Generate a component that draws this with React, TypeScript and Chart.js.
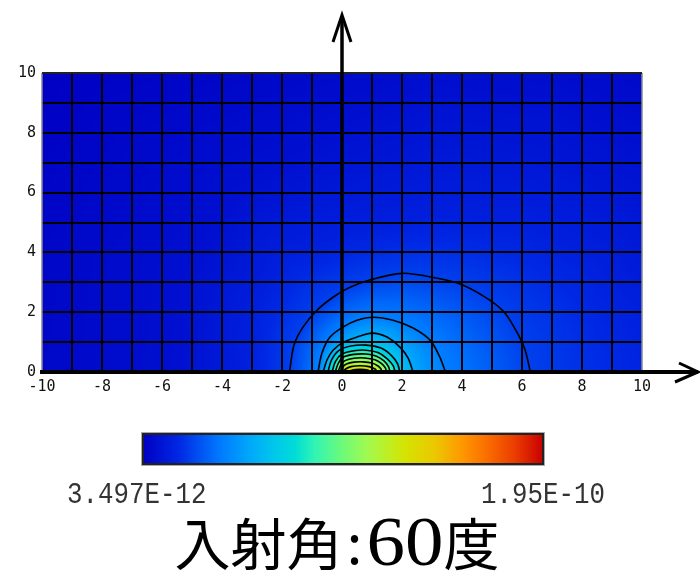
import React, { useEffect, useRef } from 'react';
import { Chart, registerables } from 'chart.js';

Chart.register(...registerables);

// ---------------- data ----------------
const X_RANGE = [-10, 10];
const Y_RANGE = [0, 10];
const GRID_STEP = 1;
const X_LABELS = [-10, -8, -6, -4, -2, 0, 2, 4, 6, 8, 10];
const Y_LABELS = [0, 2, 4, 6, 8, 10];

// normalised field levels (0 = min of colour bar, 1 = max)
const CONTOUR_LEVELS = [0.12, 0.2, 0.27, 0.33, 0.39, 0.45, 0.51, 0.57, 0.63, 0.67];

const CONTOUR_1 = [[-1.75, 0], [-1.6, 0.9], [-1.3, 1.5], [-0.85, 2.05], [-0.3, 2.5], [0.2, 2.8], [0.9, 3.07], [2.0, 3.3], [3.1, 3.15], [4.0, 2.92], [4.9, 2.42], [5.45, 1.95], [5.9, 1.2], [6.1, 0.75], [6.28, 0]];
const CONTOUR_2 = [[-0.8, 0], [-0.67, 0.63], [-0.4, 1.17], [0.03, 1.5], [0.5, 1.73], [1.03, 1.83], [1.7, 1.73], [2.37, 1.47], [2.95, 1.05], [3.25, 0.52], [3.45, 0]];
const CONTOUR_3 = [[-0.63, 0], [-0.5, 0.4], [-0.3, 0.73], [0.05, 1.0], [0.5, 1.17], [1.0, 1.3], [1.5, 1.17], [1.93, 0.83], [2.2, 0.47], [2.37, 0]];
const CONTOUR_4 = [[-0.47, 0], [-0.35, 0.4], [-0.1, 0.72], [0.3, 0.87], [0.8, 0.9], [1.3, 0.8], [1.65, 0.55], [1.85, 0.28], [1.93, 0]];
const CONTOUR_5 = [[-0.33, 0], [-0.22, 0.35], [0.0, 0.6], [0.4, 0.71], [0.8, 0.73], [1.2, 0.65], [1.5, 0.45], [1.7, 0.22], [1.77, 0]];
const CONTOUR_6 = [[-0.23, 0], [-0.12, 0.3], [0.05, 0.5], [0.4, 0.59], [0.8, 0.6], [1.15, 0.53], [1.4, 0.37], [1.55, 0.18], [1.6, 0]];
const CONTOUR_7 = [[-0.13, 0], [-0.04, 0.24], [0.1, 0.38], [0.4, 0.46], [0.75, 0.47], [1.1, 0.41], [1.32, 0.28], [1.45, 0.13], [1.48, 0]];
const CONTOUR_8 = [[-0.04, 0], [0.03, 0.17], [0.15, 0.27], [0.4, 0.33], [0.7, 0.34], [1.0, 0.3], [1.2, 0.2], [1.3, 0.1], [1.33, 0]];
const CONTOUR_9 = [[0.05, 0], [0.12, 0.1], [0.3, 0.18], [0.6, 0.21], [0.9, 0.18], [1.1, 0.1], [1.18, 0]];
const CONTOUR_10 = [[0.2, 0], [0.35, 0.07], [0.6, 0.09], [0.85, 0.07], [1.0, 0]];
const CONTOURS = [CONTOUR_1, CONTOUR_2, CONTOUR_3, CONTOUR_4, CONTOUR_5, CONTOUR_6, CONTOUR_7, CONTOUR_8, CONTOUR_9, CONTOUR_10];

// faint outer iso-lines of the background shading (not drawn as lines)
const SHADE_LEVELS = [0.0, 0.035, 0.07];
const SHADE_0 = [[-14, 0], [-13, 6], [-9, 11], [-2, 13], [5, 14], [12, 13], [17, 9], [20, 0]];
const SHADE_1 = [[-5.5, 0], [-5.2, 3], [-3.5, 6], [0, 8], [3, 9.5], [7, 9], [10.5, 7], [13, 3], [14, 0]];
const SHADE_2 = [[-3.2, 0], [-3, 2.0], [-2, 3.8], [0, 4.6], [3, 5.2], [6, 5.0], [8.5, 3.8], [10.5, 1.5], [11, 0]];
const SHADES = [SHADE_0, SHADE_1, SHADE_2];

const PEAK = [0.6, 0.02];
const PEAK_LEVEL = 0.7;

// colour map (jet-like), positions 0..1
const CMAP_POS = [0, 0.09, 0.19, 0.27, 0.33, 0.38, 0.43, 0.5, 0.56, 0.63, 0.66, 0.73, 0.8, 0.86, 0.93, 1];
const CMAP_R = [0, 0, 0, 0, 0, 0, 50, 110, 160, 200, 215, 235, 255, 250, 235, 200];
const CMAP_G = [0, 40, 120, 170, 200, 220, 245, 250, 250, 235, 225, 200, 150, 110, 60, 0];
const CMAP_B = [195, 228, 255, 250, 235, 215, 180, 120, 80, 20, 0, 0, 0, 0, 0, 0];

const COLORBAR_LABELS = ['3.497E-12', '1.95E-10'];
const TITLE_TEXT = '入射角:60度';

// ---------------- helpers ----------------
type Shape = { level: number; pts: number[][] };
const SHAPES: Shape[] = [
  ...SHADES.map((pts, i) => ({ level: SHADE_LEVELS[i], pts })),
  ...CONTOURS.map((pts, i) => ({ level: CONTOUR_LEVELS[i], pts })),
];

function insideArc(pts: number[][], x: number, y: number) {
  let inside = false;
  const n = pts.length;
  for (let i = 0, j = n - 1; i < n; j = i++) {
    const xi = pts[i][0], yi = pts[i][1], xj = pts[j][0], yj = pts[j][1];
    if ((yi > y) !== (yj > y) && x < ((xj - xi) * (y - yi)) / (yj - yi) + xi) inside = !inside;
  }
  return inside;
}

function distArc(pts: number[][], x: number, y: number) {
  let best = Infinity;
  for (let i = 0; i < pts.length - 1; i++) {
    const ax = pts[i][0], ay = pts[i][1], bx = pts[i + 1][0], by = pts[i + 1][1];
    const dx = bx - ax, dy = by - ay;
    const l2 = dx * dx + dy * dy;
    let t = l2 > 0 ? ((x - ax) * dx + (y - ay) * dy) / l2 : 0;
    t = Math.max(0, Math.min(1, t));
    const px = ax + t * dx - x, py = ay + t * dy - y;
    const d = px * px + py * py;
    if (d < best) best = d;
  }
  return Math.sqrt(best);
}

function fieldAt(x: number, y: number) {
  let k = -1;
  for (let s = SHAPES.length - 1; s >= 0; s--) {
    if (insideArc(SHAPES[s].pts, x, y)) { k = s; break; }
  }
  if (k < 0) return SHAPES[0].level;
  const dOut = distArc(SHAPES[k].pts, x, y);
  let dIn: number, next: number;
  if (k === SHAPES.length - 1) {
    dIn = Math.hypot(x - PEAK[0], y - PEAK[1]);
    next = PEAK_LEVEL;
  } else {
    dIn = distArc(SHAPES[k + 1].pts, x, y);
    next = SHAPES[k + 1].level;
  }
  const t = dOut / (dOut + dIn || 1);
  return SHAPES[k].level + (next - SHAPES[k].level) * t;
}

function cmap(v: number): [number, number, number] {
  v = Math.max(0, Math.min(1, v));
  for (let i = 0; i < CMAP_POS.length - 1; i++) {
    if (v <= CMAP_POS[i + 1]) {
      const t = (v - CMAP_POS[i]) / (CMAP_POS[i + 1] - CMAP_POS[i]);
      return [
        CMAP_R[i] + (CMAP_R[i + 1] - CMAP_R[i]) * t,
        CMAP_G[i] + (CMAP_G[i + 1] - CMAP_G[i]) * t,
        CMAP_B[i] + (CMAP_B[i + 1] - CMAP_B[i]) * t,
      ];
    }
  }
  const n = CMAP_POS.length - 1;
  return [CMAP_R[n], CMAP_G[n], CMAP_B[n]];
}

const heatmapPlugin = {
  id: 'heatmap',
  beforeDraw(chart: any) {
    const { ctx, chartArea: a, scales } = chart;
    const xs = scales.x, ys = scales.y;
    const left = Math.round(a.left), top = Math.round(a.top);
    const w = Math.round(a.right) - left, h = Math.round(a.bottom) - top;
    const img = ctx.createImageData(w, h);
    const d = img.data;
    const xv = new Float64Array(w);
    for (let i = 0; i < w; i++) xv[i] = xs.getValueForPixel(left + i + 0.5);
    for (let j = 0; j < h; j++) {
      const yv = ys.getValueForPixel(top + j + 0.5);
      for (let i = 0; i < w; i++) {
        const c = cmap(fieldAt(xv[i], yv));
        const idx = (j * w + i) * 4;
        d[idx] = c[0]; d[idx + 1] = c[1]; d[idx + 2] = c[2]; d[idx + 3] = 255;
      }
    }
    ctx.putImageData(img, left, top);
  },
};

function drawScaled(ctx: CanvasRenderingContext2D, text: string, x: number, y: number, font: string, sx: number, align: CanvasTextAlign, color: string) {
  ctx.save();
  ctx.font = font;
  ctx.fillStyle = color;
  ctx.textAlign = align;
  ctx.textBaseline = 'alphabetic';
  ctx.translate(x, y);
  ctx.scale(sx, 1);
  ctx.fillText(text, 0, 0);
  ctx.restore();
}

const overlayPlugin = {
  id: 'overlay',
  afterDraw(chart: any) {
    const { ctx, chartArea: a, scales } = chart;
    const xs = scales.x, ys = scales.y;
    const x0 = xs.getPixelForValue(0);
    const y0 = ys.getPixelForValue(0);
    ctx.save();
    // thin grey frame on the sides
    ctx.strokeStyle = '#8a8a8a';
    ctx.lineWidth = 1.5;
    ctx.beginPath();
    ctx.moveTo(a.left, a.top); ctx.lineTo(a.left, a.bottom);
    ctx.moveTo(a.right, a.top); ctx.lineTo(a.right, a.bottom);
    ctx.stroke();
    // top line
    ctx.strokeStyle = '#222';
    ctx.lineWidth = 2;
    ctx.beginPath();
    ctx.moveTo(a.left, a.top); ctx.lineTo(a.right, a.top);
    ctx.stroke();

    ctx.strokeStyle = '#000';
    ctx.lineCap = 'butt';
    // x axis with arrow
    ctx.lineWidth = 4;
    ctx.beginPath();
    ctx.moveTo(a.left - 2, y0);
    ctx.lineTo(698, y0);
    ctx.stroke();
    ctx.lineWidth = 3;
    ctx.beginPath();
    ctx.moveTo(679, y0 - 9);
    ctx.lineTo(698, y0);
    ctx.lineTo(675, y0 + 10);
    ctx.stroke();
    // y axis with arrow
    ctx.lineWidth = 3.5;
    ctx.beginPath();
    ctx.moveTo(x0, y0);
    ctx.lineTo(x0, 16);
    ctx.stroke();
    ctx.lineWidth = 3;
    ctx.beginPath();
    ctx.moveTo(x0 - 9, 42);
    ctx.lineTo(x0, 15);
    ctx.lineTo(x0 + 9, 42);
    ctx.stroke();

    // colour bar
    const cbL = 143, cbT = 434, cbW = 400, cbH = 30;
    const grad = ctx.createLinearGradient(cbL, 0, cbL + cbW, 0);
    for (let i = 0; i < CMAP_POS.length; i++) {
      grad.addColorStop(CMAP_POS[i], `rgb(${CMAP_R[i]},${CMAP_G[i]},${CMAP_B[i]})`);
    }
    ctx.fillStyle = grad;
    ctx.fillRect(cbL, cbT, cbW, cbH);
    ctx.strokeStyle = '#aaa';
    ctx.lineWidth = 1;
    ctx.strokeRect(cbL - 1.5, cbT - 1.5, cbW + 3, cbH + 3);
    ctx.strokeStyle = '#222';
    ctx.lineWidth = 2;
    ctx.strokeRect(cbL, cbT, cbW, cbH);

    const lblFont = '29px "Liberation Mono"';
    drawScaled(ctx, COLORBAR_LABELS[0], 67, 503, lblFont, 0.89, 'left', '#333');
    drawScaled(ctx, COLORBAR_LABELS[1], 605, 503, lblFont, 0.89, 'right', '#333');

    // title, mixed scripts
    const runs = TITLE_TEXT.match(/[0-9]+|:|[^0-9:]+/g) || [];
    const cjkFont = '56px "Noto Sans CJK JP"';
    const digitFont = '70px "Liberation Serif"';
    const parts = runs.map((t) => {
      if (/^[0-9]+$/.test(t)) {
        ctx.font = digitFont;
        return { t, font: digitFont, sx: 1.1, w: ctx.measureText(t).width * 1.1, colon: false };
      }
      if (t === ':') {
        return { t, font: cjkFont, sx: 1, w: 24, colon: true };
      }
      ctx.font = cjkFont;
      return { t, font: cjkFont, sx: 1, w: ctx.measureText(t).width, colon: false };
    });
    const total = parts.reduce((s, p) => s + p.w, 0);
    let cx = 337 - total / 2;
    for (const p of parts) {
      if (p.colon) {
        drawScaled(ctx, p.t, cx + p.w / 2, 564, p.font, 1, 'center', '#000');
      } else {
        drawScaled(ctx, p.t, cx, 565, p.font, p.sx, 'left', '#000');
      }
      cx += p.w;
    }
    ctx.restore();
  },
};

export default function App() {
  const ref = useRef<HTMLCanvasElement | null>(null);
  useEffect(() => {
    if (!ref.current) return;
    const tickFont = { family: '"DejaVu Sans Mono"', size: 15 };
    const chart = new Chart(ref.current, {
      type: 'scatter',
      data: {
        datasets: CONTOURS.map((pts, i) => ({
          label: `level ${CONTOUR_LEVELS[i]}`,
          data: pts.map(([x, y]) => ({ x, y })),
          showLine: true,
          borderColor: '#000',
          borderWidth: 1.6,
          pointRadius: 0,
          tension: 0.3,
          fill: false,
        })),
      },
      options: {
        animation: false,
        responsive: false,
        devicePixelRatio: 1,
        events: [],
        layout: { padding: { left: 0, right: 58, top: 73, bottom: 171 } },
        plugins: { legend: { display: false }, tooltip: { enabled: false }, title: { display: false } },
        scales: {
          x: {
            type: 'linear',
            min: X_RANGE[0],
            max: X_RANGE[1],
            border: { display: false },
            grid: {
              drawTicks: false,
              lineWidth: 2,
              color: (c: any) => (c.tick && (c.tick.value === X_RANGE[0] || c.tick.value === X_RANGE[1]) ? 'rgba(0,0,0,0)' : '#000'),
            },
            ticks: {
              stepSize: GRID_STEP,
              autoSkip: false,
              maxRotation: 0,
              padding: 6,
              color: '#111',
              font: tickFont,
              callback: (v: any) => (X_LABELS.includes(Math.round(Number(v))) && Math.abs(Number(v) - Math.round(Number(v))) < 1e-6 ? String(Math.round(Number(v))) : ''),
            },
            afterFit: (s: any) => { s.height = 30; },
          },
          y: {
            type: 'linear',
            min: Y_RANGE[0],
            max: Y_RANGE[1],
            border: { display: false },
            grid: {
              drawTicks: false,
              lineWidth: 2,
              color: (c: any) => (c.tick && (c.tick.value === Y_RANGE[0] || c.tick.value === Y_RANGE[1]) ? 'rgba(0,0,0,0)' : '#000'),
            },
            ticks: {
              stepSize: GRID_STEP,
              autoSkip: false,
              padding: 6,
              color: '#111',
              font: tickFont,
              callback: (v: any) => (Y_LABELS.includes(Math.round(Number(v))) && Math.abs(Number(v) - Math.round(Number(v))) < 1e-6 ? String(Math.round(Number(v))) : ''),
            },
            afterFit: (s: any) => { s.width = 42; },
          },
        },
      } as any,
      plugins: [heatmapPlugin, overlayPlugin],
    });
    return () => chart.destroy();
  }, []);
  return (
    <div style={{ position: 'absolute', left: 0, top: 0, width: 700, height: 573, background: '#fff' }}>
      <canvas ref={ref} width={700} height={573} style={{ display: 'block', width: 700, height: 573 }} />
    </div>
  );
}
